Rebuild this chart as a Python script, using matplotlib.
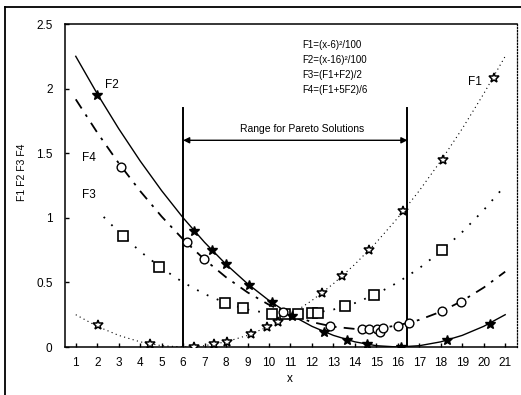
"""
Pareto range plot - four objective functions of x with sampled solutions.
"""

import matplotlib.pyplot as plt
from matplotlib.lines import Line2D

# curve values read at x = 1 .. 21
x_curve = list(range(1, 22))
f1_curve = [0.25, 0.16, 0.09, 0.04, 0.01, 0.0, 0.01, 0.04, 0.09, 0.16, 0.25,
            0.36, 0.49, 0.64, 0.81, 1.0, 1.21, 1.44, 1.69, 1.96, 2.25]
f2_curve = [2.25, 1.96, 1.69, 1.44, 1.21, 1.0, 0.81, 0.64, 0.49, 0.36, 0.25,
            0.16, 0.09, 0.04, 0.01, 0.0, 0.01, 0.04, 0.09, 0.16, 0.25]
f4_curve = [1.917, 1.66, 1.423, 1.207, 1.01, 0.833, 0.677, 0.54, 0.423, 0.327, 0.25,
            0.193, 0.157, 0.14, 0.143, 0.167, 0.21, 0.273, 0.357, 0.46, 0.583]
# F3 dotted line starts a little right of x = 2
x_f3_curve = [2.3, 3, 4, 5, 6, 7, 8, 9, 10, 11, 12, 13, 14, 15, 16, 17, 18, 19, 20, 21]
f3_curve = [1.007, 0.89, 0.74, 0.61, 0.5, 0.41, 0.34, 0.29, 0.26, 0.25, 0.26,
            0.29, 0.34, 0.41, 0.5, 0.61, 0.74, 0.89, 1.06, 1.25]

# sampled solutions (markers)
f2_pts_x = [1.97, 6.5, 7.35, 8.0, 9.07, 10.12, 11.06, 12.56, 13.62, 14.55, 16.15, 18.28, 20.27]
f2_pts_y = [1.95, 0.90, 0.75, 0.64, 0.48, 0.35, 0.24, 0.12, 0.057, 0.02, 0.0, 0.052, 0.18]

f1_pts_x = [2.04, 4.45, 6.5, 7.45, 8.03, 9.16, 9.89, 10.43, 12.45, 13.39, 14.66, 16.26, 18.1, 20.5]
f1_pts_y = [0.167, 0.02, 0.003, 0.021, 0.041, 0.10, 0.151, 0.197, 0.416, 0.546, 0.75, 1.053, 1.45, 2.08]

f3_pts_x = [3.2, 4.88, 7.95, 8.77, 10.12, 10.74, 11.36, 11.99, 12.3, 13.56, 14.9, 18.05]
f3_pts_y = [0.86, 0.62, 0.34, 0.30, 0.258, 0.253, 0.252, 0.26, 0.267, 0.315, 0.405, 0.747]

f4_pts_x = [3.13, 6.16, 6.98, 10.67, 12.83, 14.32, 14.67, 15.02, 15.17, 15.33, 16.0, 16.54, 18.05, 18.95]
f4_pts_y = [1.39, 0.81, 0.68, 0.27, 0.165, 0.138, 0.139, 0.142, 0.115, 0.145, 0.16, 0.187, 0.277, 0.352]

pareto_left = 6.0
pareto_right = 16.45

formulas = ["F1=(x-6)²/100", "F2=(x-16)²/100", "F3=(F1+F2)/2", "F4=(F1+5F2)/6"]

plt.rcParams['font.family'] = ['Liberation Sans', 'DejaVu Sans']

fig = plt.figure(figsize=(5.21, 3.95), dpi=100)
ax = fig.add_axes([0.1248, 0.1215, 0.8675, 0.8177])

# curves
ax.plot(x_curve, f2_curve, color='black', lw=1.0, zorder=2)
ax.plot(x_curve, f1_curve, color='black', lw=0.8, linestyle=(0, (1, 3)), zorder=2)
ax.plot(x_f3_curve, f3_curve, color='black', lw=1.3, linestyle=(0, (1, 5)), zorder=2)
ax.plot(x_curve, f4_curve, color='black', lw=1.3, linestyle=(0, (6, 4, 1.5, 4)), zorder=2)

# markers
ax.plot(f2_pts_x, f2_pts_y, linestyle='none', marker='*', ms=7.5, color='black', zorder=4)
ax.plot(f1_pts_x, f1_pts_y, linestyle='none', marker='*', ms=7.5, mfc='white',
        mec='black', mew=1.1, zorder=4)
ax.plot(f3_pts_x, f3_pts_y, linestyle='none', marker='s', ms=7, mfc='white',
        mec='black', mew=1.2, zorder=3)
ax.plot(f4_pts_x, f4_pts_y, linestyle='none', marker='o', ms=6.3, mfc='white',
        mec='black', mew=1.0, zorder=3)

# range for pareto solutions
ax.plot([pareto_left, pareto_left], [0, 1.85], color='black', lw=1.4, zorder=2)
ax.plot([pareto_right, pareto_right], [0, 1.85], color='black', lw=1.4, zorder=2)
ax.annotate('', xy=(pareto_left, 1.6), xytext=(pareto_right, 1.6),
            arrowprops=dict(arrowstyle='<|-|>', color='black', lw=1.0,
                            mutation_scale=9, shrinkA=0, shrinkB=0))
ax.text((pareto_left + pareto_right) / 2 + 0.3, 1.69, 'Range for Pareto Solutions',
        ha='center', va='center', fontsize=7.5)

# formula block
for i, line in enumerate(formulas):
    ax.text(11.55, 2.334 - i * 0.115, line, ha='left', va='center', fontsize=7)

# curve labels
ax.text(2.66, 2.03, 'F2', ha='center', va='center', fontsize=8.5)
ax.text(1.62, 1.46, 'F4', ha='center', va='center', fontsize=8.5)
ax.text(1.62, 1.18, 'F3', ha='center', va='center', fontsize=8.5)
ax.text(19.6, 2.05, 'F1', ha='center', va='center', fontsize=8.5)

# axes setup
ax.set_xlim(0.5, 21.55)
ax.set_ylim(0, 2.5)
ax.set_xticks(range(1, 22))
ax.set_yticks([0, 0.5, 1, 1.5, 2, 2.5])
ax.set_yticklabels(['0', '0.5', '1', '1.5', '2', '2.5'])
ax.tick_params(direction='in', length=3, width=1, labelsize=8.5)
ax.tick_params(axis='x', pad=7)
ax.tick_params(axis='y', pad=9)

for side in ['left', 'bottom', 'top']:
    ax.spines[side].set_linewidth(1.1)
ax.spines['right'].set_linewidth(0.9)
ax.spines['right'].set_linestyle((0, (1, 1.5)))

ax.text(0.498, -0.098, 'x', transform=ax.transAxes, ha='center', va='center', fontsize=8.5)
ax.text(-0.095, 0.54, 'F1 F2 F3 F4', transform=ax.transAxes, ha='center', va='center',
        rotation=90, fontsize=7.5)

# outer frame of the scanned figure (left and top edges)
fig.add_artist(Line2D([5 / 521, 5 / 521], [0, 1 - 7 / 395], color='black', lw=1.3))
fig.add_artist(Line2D([5 / 521, 1], [1 - 7 / 395, 1 - 7 / 395], color='black', lw=1.3))

fig.savefig('out.png', dpi=100)
